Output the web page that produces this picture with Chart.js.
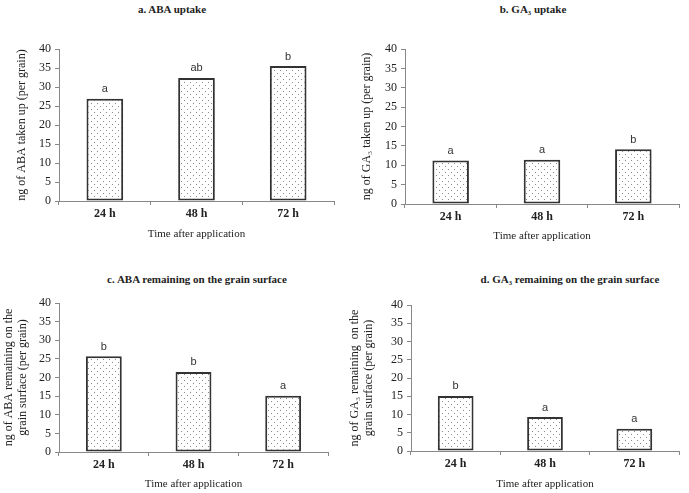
<!DOCTYPE html>
<html>
<head>
<meta charset="utf-8">
<script src="https://cdn.jsdelivr.net/npm/chart.js@4.4.1/dist/chart.umd.min.js"></script>
<style>
body { margin: 0; background: #fff; width: 689px; height: 493px; overflow: hidden; position: relative; }
.panel { position: absolute; }
.ttl { position: absolute; font: bold 11px "Liberation Serif", serif; color: #222; white-space: nowrap; transform: translate(-50%, -50%); }
</style>
</head>
<body>
<div class="ttl" style="left:172px;top:9px">a. ABA uptake</div>
<div class="ttl" style="left:533px;top:9px">b. GA₃ uptake</div>
<div class="ttl" style="left:197px;top:279px">c. ABA remaining on the grain surface</div>
<div class="ttl" style="left:570px;top:279px">d. GA₃ remaining on the grain surface</div>

<div class="panel" style="left:0;top:0;width:345px;height:250px"><canvas id="chartA"></canvas></div>
<div class="panel" style="left:345px;top:0;width:344px;height:250px"><canvas id="chartB"></canvas></div>
<div class="panel" style="left:0;top:250px;width:345px;height:243px"><canvas id="chartC"></canvas></div>
<div class="panel" style="left:345px;top:250px;width:344px;height:243px"><canvas id="chartD"></canvas></div>

<script>
const times = ['24 h', '48 h', '72 h'];

const abaUptake = [26.9, 32.4, 35.5];
const ga3Uptake = [11.2, 11.4, 14.1];
const abaRemaining = [25.7, 21.5, 15.1];
const ga3Remaining = [15.1, 9.3, 6.1];

const abaUptakeLetters = ['a', 'ab', 'b'];
const ga3UptakeLetters = ['a', 'a', 'b'];
const abaRemainingLetters = ['b', 'b', 'a'];
const ga3RemainingLetters = ['b', 'a', 'a'];

const yMax = 40;
const yStep = 5;
const xTitle = 'Time after application';

// dotted fill like the original
function dots() {
	const c = document.createElement('canvas');
	c.width = 6; c.height = 6;
	const g = c.getContext('2d');
	g.fillStyle = '#fff';
	g.fillRect(0, 0, 6, 6);
	g.fillStyle = '#8a8a8a';
	g.fillRect(1, 1, 1, 1);
	g.fillRect(4, 4, 1, 1);
	return g.createPattern(c, 'repeat');
}

const letterPlugin = {
	id: 'letters',
	afterDatasetsDraw(chart) {
		const ctx = chart.ctx;
		const letters = chart.options.plugins.letters.labels;
		const meta = chart.getDatasetMeta(0);
		ctx.save();
		ctx.font = '11px "Liberation Sans", Arial, sans-serif';
		ctx.fillStyle = '#333';
		ctx.textAlign = 'center';
		ctx.textBaseline = 'bottom';
		meta.data.forEach((bar, i) => {
			ctx.fillText(letters[i], bar.x, bar.y - 4);
		});
		ctx.restore();
	}
};

const serif = '"Liberation Serif", "Times New Roman", serif';

function makeChart(id, values, letters, yTitle, box) {
	new Chart(document.getElementById(id), {
		type: 'bar',
		data: {
			labels: times,
			datasets: [{
				data: values,
				backgroundColor: dots(),
				borderColor: '#333',
				borderWidth: 2,
				borderSkipped: false,
				categoryPercentage: 1,
				barPercentage: 0.4
			}]
		},
		plugins: [letterPlugin],
		options: {
			responsive: true,
			maintainAspectRatio: false,
			animation: false,
			layout: {
				padding: { top: box.top, right: box.right, left: 0, bottom: 0 }
			},
			plugins: {
				legend: { display: false },
				tooltip: { enabled: false },
				letters: { labels: letters }
			},
			scales: {
				x: {
					afterFit(scale) { scale.height = box.xHeight; },
					grid: {
						drawOnChartArea: false,
						drawTicks: true,
						tickLength: 4,
						color: '#888'
					},
					border: { color: '#888' },
					ticks: {
						padding: 2,
						color: '#222',
						font: { family: serif, size: 12, weight: 'bold' }
					},
					title: {
						display: true,
						text: xTitle,
						color: '#222',
						padding: { top: 0, bottom: box.xtPad },
						font: { family: serif, size: 11 }
					}
				},
				y: {
					min: 0,
					max: yMax,
					afterFit(scale) { scale.width = box.yWidth; },
					grid: {
						drawOnChartArea: false,
						drawTicks: true,
						tickLength: 4,
						color: '#888'
					},
					border: { color: '#888' },
					ticks: {
						stepSize: yStep,
						padding: 4,
						color: '#222',
						font: { family: serif, size: 12 }
					},
					title: {
						display: true,
						text: yTitle,
						color: '#222',
						padding: { top: box.ytPad, bottom: 0 },
						font: { family: serif, size: 12, lineHeight: 1.17 }
					}
				}
			}
		}
	});
}

makeChart('chartA', abaUptake, abaUptakeLetters, 'ng of ABA taken up (per grain)',
	{ top: 49, right: 11, yWidth: 59, xHeight: 49, ytPad: 15, xtPad: 9 });
makeChart('chartB', ga3Uptake, ga3UptakeLetters, 'ng of GA₃ taken up (per grain)',
	{ top: 49, right: 10, yWidth: 60, xHeight: 46, ytPad: 15, xtPad: 7 });
makeChart('chartC', abaRemaining, abaRemainingLetters, ['ng of ABA remaining on the', 'grain surface (per grain)'],
	{ top: 53, right: 17, yWidth: 59, xHeight: 41, ytPad: 2, xtPad: 2 });
makeChart('chartD', ga3Remaining, ga3RemainingLetters, ['ng of GA₃ remaining  on the', 'grain surface (per grain)'],
	{ top: 55, right: 10, yWidth: 66, xHeight: 42, ytPad: 3, xtPad: 2 });
</script>
</body>
</html>
